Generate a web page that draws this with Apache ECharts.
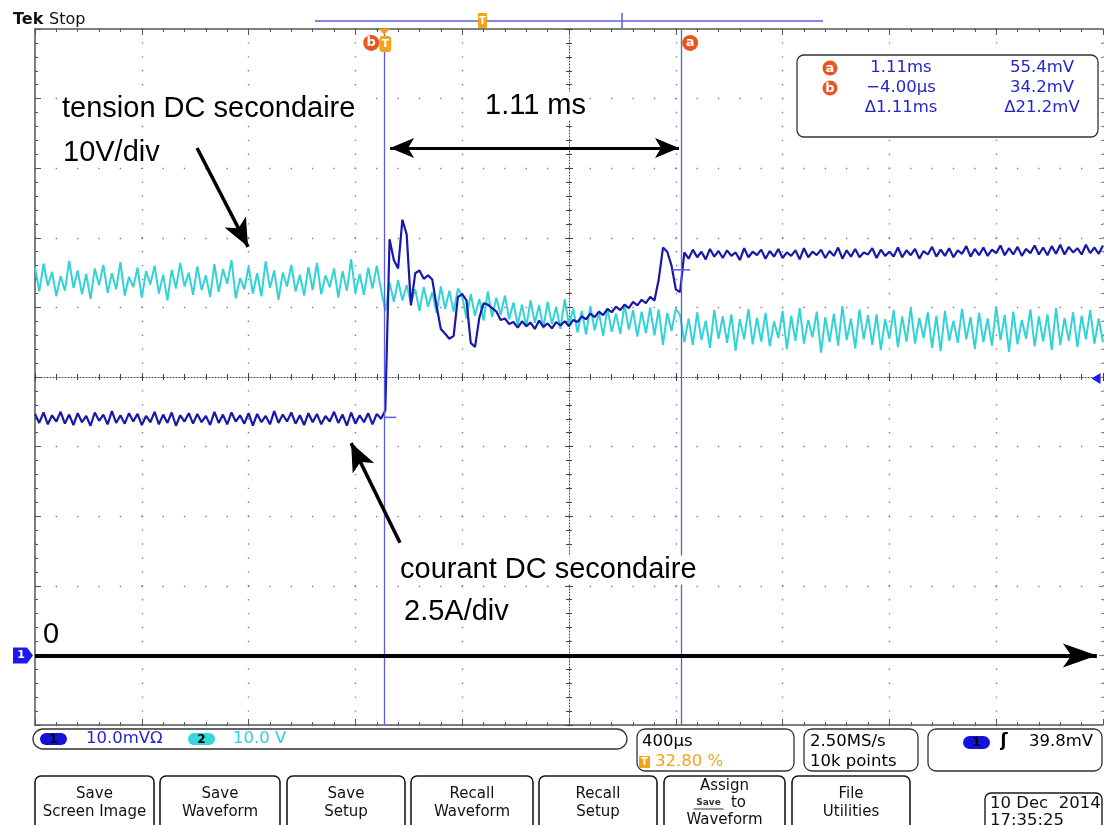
<!DOCTYPE html>
<html><head><meta charset="utf-8">
<script src="https://cdn.jsdelivr.net/npm/echarts@6/dist/echarts.min.js"></script>
<style>html,body{margin:0;padding:0;background:#fff;}#c{width:1104px;height:825px;}</style>
</head><body><div id="c"></div>
<script>
// ---- Record: 400 µs/div, 10 divisions, trigger at 32.80 % ----
const T_START_US = -1312;
const T_END_US = 2688;
const SAMPLE_STEP_US = 16;

// Channel 1 (dark blue) : DC secondary current, 10 mV/div (mV)
const ch1CurrentMv = [
34.7,33.4,34.9,33.2,34.5,33.6,35.0,33.3,34.6,33.1,
34.8,33.5,34.4,33.0,34.9,33.7,34.6,33.2,35.1,33.4,
34.5,33.3,34.8,33.6,34.7,33.1,34.4,33.5,35.0,33.2,
34.6,33.4,34.9,33.0,34.5,33.6,34.8,33.3,34.7,33.5,
34.4,33.1,35.0,33.4,34.6,33.2,34.9,33.6,34.5,33.3,
34.8,33.0,34.7,33.5,34.4,33.2,35.1,33.4,34.6,33.6,
34.9,33.3,34.5,33.1,34.8,33.5,34.7,33.2,34.4,33.6,
35.0,33.4,34.6,33.0,34.9,33.3,34.5,33.5,34.8,33.2,
34.7,34.0,
35.2,
59.8,56.8,55.6,62.6,60.5,50.3,54.9,55.3,54.1,54.6,
54.0,50.2,46.9,46.2,45.5,45.9,51.5,51.9,51.0,44.9,
44.3,48.5,50.6,50.4,49.9,49.4,48.2,48.4,47.6,
47.9,47.1,48.0,47.3,47.8,46.9,48.1,47.2,47.7,47.0,47.9,47.4,48.0,47.3,
48.2,47.9,48.7,48.3,49.1,48.6,49.4,48.9,49.8,49.3,
50.1,49.6,50.4,49.9,50.8,50.3,51.1,50.6,51.5,51.0,
54.0,58.6,58.0,56.0,52.6,52.2,
57.9,57.0,58.3,57.2,58.0,56.9,58.4,57.3,58.1,57.1,
58.2,57.4,57.9,56.8,58.5,57.2,58.0,57.5,58.3,57.0,
58.1,57.3,58.4,57.1,57.9,57.4,58.2,56.9,58.5,57.2,
58.0,57.5,58.3,57.1,58.1,57.4,58.6,57.0,58.2,57.3,
58.4,57.2,57.9,57.6,58.5,57.1,58.3,57.4,58.0,57.3,
58.6,57.2,58.2,57.5,58.4,57.0,58.1,57.6,58.7,57.3,
58.3,57.4,58.5,57.2,58.2,57.7,58.8,57.3,58.4,57.5,
58.6,57.4,58.3,57.8,58.9,57.5,58.5,57.6,58.7,57.4,
58.4,57.8,58.9,57.6,58.6,57.5,58.8,57.7,59.0,57.6,
58.7,57.9,58.5,57.6,59.0,57.8,58.6,57.7,58.9
];

// Channel 2 (cyan) : DC secondary voltage, 10 V/div (V)
const ch2VoltageV = [
55.8,52.3,56.3,53.1,55.1,51.6,54.5,52.4,56.7,52.8,
55.3,51.9,54.8,51.2,55.6,53.2,56.1,52.1,54.9,52.6,
56.5,51.7,54.4,52.9,55.7,51.4,55.2,53.3,56.0,52.0,
54.7,51.0,55.4,52.7,56.4,53.0,55.0,51.8,55.9,52.5,
54.6,51.5,56.2,52.2,55.5,53.4,56.8,51.3,54.2,52.6,
55.9,52.0,54.9,51.6,56.6,52.8,55.3,51.1,55.0,53.0,
56.1,52.3,54.7,51.7,55.8,52.5,56.4,51.9,54.6,52.9,
55.6,51.4,55.2,52.4,56.9,52.1,54.8,51.8,55.7,52.7,
56.0,52.6,
49.5,
53.6,50.8,53.9,51.0,53.2,50.6,
52.6,49.5,52.9,50.1,52.2,49.2,53.0,49.8,52.4,49.4,52.7,
51.6,48.4,51.9,48.8,51.2,48.1,52.3,48.6,51.4,48.9,51.7,48.3,
50.7,47.5,50.4,47.2,51.0,47.8,50.3,47.0,50.8,47.6,50.1,46.9,51.2,47.4,
49.8,46.4,49.5,46.1,50.2,46.7,49.3,45.9,49.9,46.5,
49.1,46.2,50.4,46.8,49.6,45.8,49.4,46.3,50.0,46.0,
49.7,44.6,49.2,46.6,49.8,
48.9,45.0,48.4,44.6,49.3,45.3,48.1,44.2,49.6,45.5,
48.7,44.9,49.0,43.8,48.3,45.4,49.8,44.7,48.5,45.1,
49.2,44.4,48.0,45.6,49.5,44.0,48.8,45.2,49.9,44.8,
48.2,45.7,49.4,43.5,48.6,45.0,49.1,44.5,50.2,45.3,
48.4,44.1,49.7,45.4,48.9,44.6,49.0,43.9,48.3,45.5,
49.6,44.3,48.7,45.1,50.0,44.8,48.5,45.6,49.3,44.2,
48.8,43.7,49.5,45.2,48.1,44.9,49.8,45.4,48.6,44.0,
49.2,45.0,48.4,44.5,50.1,45.3,48.9,43.6,49.4,44.7,
48.2,45.5,49.7,44.4,48.7,45.1,49.0,43.9,49.9,44.6,
48.5,45.2,49.3,44.3,48.8,45.4,49.6,44.8,48.4,45.0
];

// Cursors (µs) and their channel-1 readings (mV)
const cursorBTimeUs = -4;
const cursorATimeUs = 1108;
const cursorBValueMv = 34.2;
const cursorAValueMv = 55.4;
const triggerLevelMv = 39.8;

// Readout and status texts
const readoutTimes = ['1.11ms', '\u22124.00\u00b5s', '\u03941.11ms'];
const readoutValues = ['55.4mV', '34.2mV', '\u039421.2mV'];
const buttonLabels = [['Save','Screen Image'],['Save','Waveform'],['Save','Setup'],['Recall','Waveform'],['Recall','Setup'],['Assign','to','Waveform'],['File','Utilities']];

// Annotation arrows [t0, v0, t1, v1] in channel-1 coordinates (tail -> tip)
const arrowTension = [-705, 72.9, -514, 58.7];
const arrowCourant = [55, 16.2, -128, 30.5];
const arrowDelta = [18, 72.9, 1100, 72.9];
const zeroArrowEndUs = 2665;

// -------------------------------------------------------------
const chart = echarts.init(document.getElementById('c'));
const ch1Data = ch1CurrentMv.map((v, i) => [T_START_US + i * SAMPLE_STEP_US, v]);
const ch2Data = ch2VoltageV.map((v, i) => [T_START_US + i * SAMPLE_STEP_US, v]);

const CURSOR = '#5b5be6';
const GRID = '#808080';
const EDGE = '#555';
const ORANGE = '#f4a41c';
const RED = '#ea5420';
const TXTBLUE = '#2424cc';
const MONO = '"DejaVu Sans", sans-serif';
const ANN = '"Liberation Sans", Arial, sans-serif';

function gx(extra) {
  return Object.assign({ type: 'value', gridIndex: 0, min: 0, max: 4000, interval: 400,
    axisLabel: { show: false }, splitLine: { show: false } }, extra);
}
function gy(extra) {
  return Object.assign({ type: 'value', gridIndex: 0, min: -10, max: 90, interval: 10,
    axisLabel: { show: false }, splitLine: { show: false } }, extra);
}
const edgeLine = { show: true, onZero: false, lineStyle: { color: EDGE, width: 1.5 } };
const centerLine = { show: true, onZero: false, lineStyle: { color: '#444', width: 1, type: [1, 2] } };

const option = {
  animation: false,
  backgroundColor: '#fff',
  grid: { left: 35, top: 29, width: 1068, height: 696, containLabel: false },
  xAxis: [
    gx({ position: 'bottom', axisLine: edgeLine,
      axisTick: { show: true, inside: true, length: 6, lineStyle: { color: EDGE } },
      minorTick: { show: true, splitNumber: 5, length: 3, lineStyle: { color: EDGE } },
      splitLine: { show: true, lineStyle: { color: GRID, width: 1.4, type: [1.4, 12.52], dashOffset: 0.7 } } }),
    { type: 'value', gridIndex: 0, min: T_START_US, max: T_END_US, show: false },
    gx({ position: 'top', axisLine: edgeLine,
      axisTick: { show: true, inside: true, length: 6, lineStyle: { color: EDGE } },
      minorTick: { show: true, splitNumber: 5, length: 3, lineStyle: { color: EDGE } } }),
    gx({ position: 'bottom', offset: -348, axisLine: centerLine,
      axisTick: { show: true, inside: false, length: 4, lineStyle: { color: '#444' } },
      minorTick: { show: true, splitNumber: 5, length: 3, lineStyle: { color: '#444' } } }),
    gx({ position: 'bottom', offset: -348, axisLine: { show: false },
      axisTick: { show: true, inside: true, length: 4, lineStyle: { color: '#444' } },
      minorTick: { show: true, splitNumber: 5, length: 3, lineStyle: { color: '#444' } } })
  ],
  yAxis: [
    gy({ position: 'left', axisLine: edgeLine,
      axisTick: { show: true, inside: true, length: 6, lineStyle: { color: EDGE } },
      minorTick: { show: true, splitNumber: 5, length: 3, lineStyle: { color: EDGE } },
      splitLine: { show: true, lineStyle: { color: GRID, width: 1.4, type: [1.4, 19.96], dashOffset: 0.7 } } }),
    gy({ position: 'right', axisLine: { show: false, onZero: false },
      axisTick: { show: true, inside: true, length: 4, lineStyle: { color: '#888' } },
      minorTick: { show: true, splitNumber: 5, length: 2, lineStyle: { color: '#888' } } }),
    gy({ position: 'left', offset: -534, axisLine: centerLine,
      axisTick: { show: true, inside: false, length: 4, lineStyle: { color: '#444' } },
      minorTick: { show: true, splitNumber: 5, length: 3, lineStyle: { color: '#444' } } }),
    gy({ position: 'left', offset: -534, axisLine: { show: false, onZero: false },
      axisTick: { show: true, inside: true, length: 4, lineStyle: { color: '#444' } },
      minorTick: { show: true, splitNumber: 5, length: 3, lineStyle: { color: '#444' } } })
  ],
  series: [
    {
      name: 'CH2 tension', type: 'line', xAxisIndex: 1, yAxisIndex: 1, data: ch2Data,
      showSymbol: false, symbol: 'none', clip: true, z: 2,
      lineStyle: { color: '#33d2d6', width: 2 }
    },
    {
      name: 'CH1 courant', type: 'line', xAxisIndex: 1, yAxisIndex: 0, data: ch1Data,
      showSymbol: false, symbol: 'none', clip: true, z: 3,
      lineStyle: { color: '#1818aa', width: 2.2 },
      markLine: {
        silent: true, animation: false, label: { show: false }, symbol: ['none', 'none'],
        data: [
          { xAxis: cursorBTimeUs, lineStyle: { color: CURSOR, width: 1.3, type: 'solid' } },
          { xAxis: cursorATimeUs, lineStyle: { color: CURSOR, width: 1.3, type: 'solid' } },
          [ { coord: [T_START_US, 0], symbol: 'none', lineStyle: { color: '#000', width: 4, type: 'solid' } },
            { coord: [zeroArrowEndUs, 0], symbol: 'arrow', symbolSize: [18, 34] } ],
          [ { coord: [arrowTension[0], arrowTension[1]], symbol: 'none', lineStyle: { color: '#000', width: 3.5, type: 'solid' } },
            { coord: [arrowTension[2], arrowTension[3]], symbol: 'arrow', symbolSize: [18, 28] } ],
          [ { coord: [arrowCourant[0], arrowCourant[1]], symbol: 'none', lineStyle: { color: '#000', width: 3.5, type: 'solid' } },
            { coord: [arrowCourant[2], arrowCourant[3]], symbol: 'arrow', symbolSize: [18, 28] } ],
          [ { coord: [arrowDelta[0], arrowDelta[1]], symbol: 'arrow', symbolSize: [15, 24], lineStyle: { color: '#000', width: 3, type: 'solid' } },
            { coord: [arrowDelta[2], arrowDelta[3]], symbol: 'arrow', symbolSize: [15, 24] } ]
        ]
      },
      markPoint: {
        silent: true, animation: false,
        data: [
          { coord: [cursorBTimeUs, 88], symbol: 'circle', symbolSize: 16, symbolOffset: [-13, 0],
            itemStyle: { color: RED }, label: { show: true, formatter: 'b', color: '#fff', fontWeight: 'bold', fontSize: 13, fontFamily: MONO } },
          { coord: [cursorBTimeUs, 88], symbol: 'roundRect', symbolSize: [12, 16], symbolOffset: [1, 1],
            itemStyle: { color: ORANGE }, label: { show: true, formatter: 'T', color: '#fff', fontWeight: 'bold', fontSize: 11, fontFamily: MONO } },
          { coord: [cursorBTimeUs, 89.6], symbol: 'triangle', symbolRotate: 180, symbolSize: [12, 6],
            itemStyle: { color: ORANGE }, label: { show: false } },
          { coord: [cursorATimeUs, 88], symbol: 'circle', symbolSize: 16, symbolOffset: [9, 0],
            itemStyle: { color: RED }, label: { show: true, formatter: 'a', color: '#fff', fontWeight: 'bold', fontSize: 13, fontFamily: MONO } },
          { coord: [cursorBTimeUs, cursorBValueMv], symbol: 'rect', symbolSize: [12, 1.5], symbolOffset: [6, 0],
            itemStyle: { color: CURSOR }, label: { show: false } },
          { coord: [cursorATimeUs, cursorAValueMv], symbol: 'rect', symbolSize: [18, 1.5],
            itemStyle: { color: CURSOR }, label: { show: false } },
          { coord: [T_END_US, triggerLevelMv], symbol: 'triangle', symbolRotate: 90, symbolSize: [11, 9], symbolOffset: [-7, 0],
            itemStyle: { color: '#1a1aee' }, label: { show: false } },
          { coord: [T_START_US, 0], symbol: 'path://M0,0 L14,0 L20,7 L14,14 L0,14 Z', symbolSize: [20, 16], symbolOffset: [-12, 0],
            itemStyle: { color: '#1a1aee' }, label: { show: true, formatter: '1', color: '#fff', fontWeight: 'bold', fontSize: 11, fontFamily: MONO, offset: [-2, 0] } }
        ]
      }
    }
  ],
  graphic: { elements: [] }
};

// ---------- screen furniture ----------
const G = option.graphic.elements;
function txt(x, y, s, font, fill, align, extra) {
  const st = Object.assign({ text: s, x: 0, y: 0, font: font, fill: fill || '#000',
    align: align || 'left', textAlign: align || 'left', verticalAlign: 'middle', textVerticalAlign: 'middle' }, extra || {});
  G.push({ type: 'text', x: x, y: y, z: 100, silent: true, style: st });
}
function box(x, y, w, h, r, stroke, fill, lw) {
  G.push({ type: 'rect', z: 99, silent: true, shape: { x: x, y: y, width: w, height: h, r: r },
    style: { fill: fill || 'none', stroke: stroke || 'none', lineWidth: lw || 1.3 } });
}
function seg(x1, y1, x2, y2, color, lw) {
  G.push({ type: 'line', z: 99, silent: true, shape: { x1: x1, y1: y1, x2: x2, y2: y2 }, style: { stroke: color, lineWidth: lw || 1 } });
}

// Title
txt(13, 20, 'Tek', 'bold 16px ' + MONO, '#111');
txt(49, 20, 'Stop', '16px ' + MONO, '#111');
// record bar
seg(315, 21, 823, 21, CURSOR, 1.5);
seg(622, 13, 622, 28, CURSOR, 1.5);
box(478, 13, 9, 15, 1, null, ORANGE);
txt(482.5, 21, 'T', 'bold 10px ' + MONO, '#fff', 'center');

// Annotations
const annFont = '29px ' + ANN;
const annBg = { backgroundColor: '#fff', padding: [0, 2] };
txt(60, 109, 'tension DC secondaire', annFont, '#000', 'left', annBg);
txt(61, 153, '10V/div', annFont, '#000', 'left', annBg);
txt(483, 106, '1.11 ms', annFont, '#000', 'left', annBg);
txt(398, 570, 'courant DC secondaire', annFont, '#000', 'left', annBg);
txt(402, 612, '2.5A/div', annFont, '#000', 'left', annBg);
txt(43, 635, '0', annFont, '#000', 'left');

// Cursor readout box
box(797, 55, 301, 82, 7, '#333', '#fff', 1.3);
const rowsY = [68, 88, 108];
['a', 'b'].forEach((l, k) => {
  G.push({ type: 'circle', z: 100, silent: true, shape: { cx: 830, cy: rowsY[k], r: 7.5 }, style: { fill: RED } });
  txt(830, rowsY[k] + 0.5, l, 'bold 13px ' + MONO, '#fff', 'center');
});
readoutTimes.forEach((s, k) => txt(901, rowsY[k], s, '16.5px ' + MONO, TXTBLUE, 'center'));
readoutValues.forEach((s, k) => txt(1042, rowsY[k], s, '16.5px ' + MONO, TXTBLUE, 'center'));

// Status line
const stFont = '16.5px ' + MONO;
box(33, 729, 594, 20, 10, '#333', null, 1.3);
box(40, 733, 27, 12, 6, null, '#1212d8');
txt(53.5, 739.5, '1', 'bold 12px ' + MONO, '#000', 'center');
txt(86, 739, '10.0mV\u03a9', stFont, TXTBLUE);
box(188, 733, 27, 12, 6, null, '#38d6d8');
txt(201.5, 739.5, '2', 'bold 12px ' + MONO, '#000', 'center');
txt(233, 739, '10.0 V', stFont, '#2fcfd3');

box(637, 729, 157, 42, 8, '#333', null, 1.3);
txt(642, 742, '400\u00b5s', stFont, '#000');
box(639, 756, 11, 12, 1, null, ORANGE);
txt(644.5, 762, 'T', 'bold 10px ' + MONO, '#fff', 'center');
txt(655, 762, '32.80 %', stFont, ORANGE);

box(804, 729, 114, 42, 8, '#333', null, 1.3);
txt(810, 742, '2.50MS/s', stFont, '#000');
txt(810, 762, '10k points', stFont, '#000');

box(928, 729, 174, 42, 8, '#333', null, 1.3);
box(963, 736, 27, 13, 6.5, null, '#1212d8');
txt(976.5, 742.5, '1', 'bold 12px ' + MONO, '#000', 'center');
txt(1004, 742, '\u0283', 'bold 17px ' + MONO, '#000', 'center');
txt(1093, 742, '39.8mV', stFont, '#000', 'right');

// Soft-key buttons
const btnX = [[35, 154], [160, 280], [287, 405], [411, 533], [539, 657], [664, 785], [792, 910]];
const btnFont = '15px ' + MONO;
buttonLabels.forEach((lines, k) => {
  const [x0, x1] = btnX[k];
  box(x0, 776, x1 - x0, 70, 6, '#1a1a1a', '#fff', 1.6);
  const cx = (x0 + x1) / 2;
  if (lines.length === 2) {
    txt(cx, 794, lines[0], btnFont, '#111', 'center');
    txt(cx, 812, lines[1], btnFont, '#111', 'center');
  } else {
    txt(cx, 786, lines[0], btnFont, '#111', 'center');
    txt(cx - 16, 803, 'Save', 'bold 9px ' + MONO, '#333', 'center');
    seg(cx - 31, 809, cx - 1, 809, '#333', 1);
    txt(cx + 14, 803, lines[1], btnFont, '#111', 'center');
    txt(cx, 820, lines[2], btnFont, '#111', 'center');
  }
});
// Date
box(985, 793, 117, 50, 6, '#1a1a1a', '#fff', 1.4);
txt(990, 804, '10 Dec  2014', stFont, '#111');
txt(990, 821, '17:35:25', stFont, '#111');

chart.setOption(option);
</script>
</body></html>
